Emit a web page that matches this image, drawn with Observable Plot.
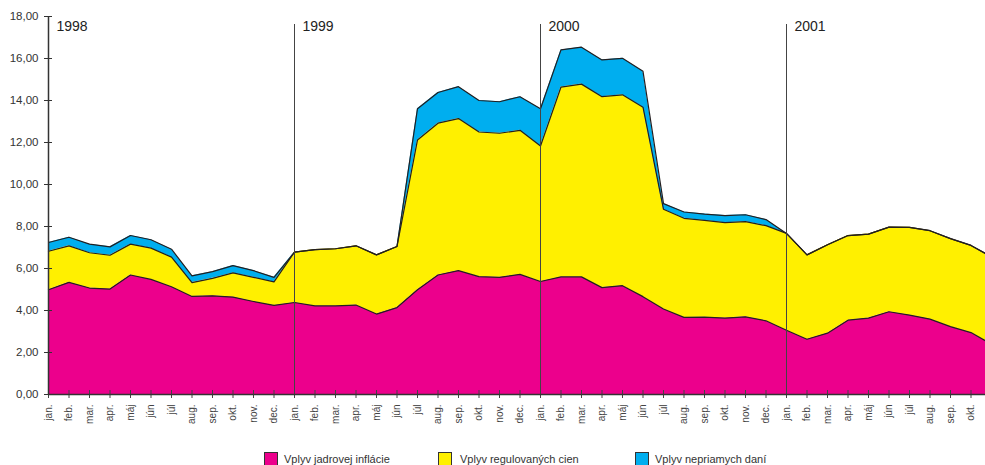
<!DOCTYPE html>
<html>
<head>
<meta charset="utf-8">
<script src="https://cdn.jsdelivr.net/npm/d3@7"></script>
<script src="https://cdn.jsdelivr.net/npm/@observablehq/plot@0.6"></script>
<style>
  html, body { margin: 0; padding: 0; background: #fff; overflow: hidden; }
  body { width: 985px; height: 465px; position: relative; font-family: "Liberation Sans", Arial, Helvetica, sans-serif; }
  #chart { position: absolute; left: 0; top: 0; }
  #legend { position: absolute; left: 0; top: 452px; width: 985px; height: 14px; font-size: 11px; color: #333; }
  .sw { width: 12px; height: 12px; border: 1px solid #333; box-sizing: content-box; }
</style>
</head>
<body>
<div id="chart"></div>
<div id="legend"></div>
<script>
const months = ["jan.","feb.","mar.","apr.","máj","jún","júl","aug.","sep.","okt.","nov.","dec."];
const years = ["1998","1999","2000","2001"];
const seriesNames = ["Vplyv jadrovej inflácie","Vplyv regulovaných cien","Vplyv nepriamych daní"];
const seriesColors = ["#EC008C","#FFF000","#00AEEF"];

// jan 1998 .. nov 2001 (47 months)
const core = [
  4.99,5.34,5.07,5.02,5.69,5.48,5.13,4.67,4.70,4.64,4.43,4.24,
  4.38,4.22,4.22,4.26,3.83,4.14,4.99,5.69,5.90,5.61,5.58,5.72,
  5.38,5.60,5.60,5.09,5.18,4.66,4.07,3.67,3.68,3.64,3.70,3.51,
  3.06,2.63,2.92,3.54,3.64,3.94,3.78,3.59,3.23,2.95,2.40
];
const regulated = [
  1.83,1.74,1.68,1.61,1.47,1.49,1.41,0.66,0.83,1.15,1.15,1.12,
  2.40,2.68,2.72,2.82,2.82,2.91,7.13,7.23,7.24,6.89,6.86,6.86,
  6.45,9.04,9.18,9.09,9.09,9.02,4.75,4.72,4.61,4.54,4.53,4.53,
  4.61,4.02,4.21,4.03,4.00,4.03,4.18,4.21,4.19,4.15,4.15
];
const taxes = [
  0.42,0.41,0.41,0.40,0.41,0.40,0.38,0.32,0.32,0.35,0.32,0.22,
  0.00,0.00,0.00,0.00,0.00,0.00,1.49,1.46,1.52,1.50,1.50,1.60,
  1.78,1.77,1.76,1.75,1.74,1.71,0.27,0.30,0.30,0.34,0.33,0.29,
  0.00,0.00,0.00,0.00,0.00,0.00,0.00,0.00,0.00,0.00,0.00
];
const yTicks = [0,2,4,6,8,10,12,14,16,18];

const seriesValues = [core, regulated, taxes];
const rows = [];
seriesValues.forEach((vals, s) => vals.forEach((v, i) => rows.push({i, series: seriesNames[s], value: v})));
const nLabeled = 46; // labels jan 1998 .. okt 2001
const xTicks = d3.range(nLabeled);
const yearStarts = years.map((label, k) => ({i: k * 12, label}));
const font = "'Liberation Sans', Arial, Helvetica, sans-serif";

const chart = Plot.plot({
  width: 985,
  height: 445,
  marginTop: 16,
  marginBottom: 51,
  marginLeft: 48,
  marginRight: 0,
  style: {fontFamily: font, background: "#fff", overflow: "visible"},
  x: {type: "linear", domain: [0, 45], range: [48, 970.5], axis: null, label: null},
  y: {domain: [0, 18], axis: null, label: null},
  color: {domain: seriesNames, range: seriesColors},
  marks: [
    Plot.areaY(rows, {x: "i", y: "value", z: "series", fill: "series"}),
    Plot.lineY(rows, Plot.stackY2({x: "i", y: "value", z: "series", stroke: "#231f20", strokeWidth: 1.2})),
    Plot.ruleX(yearStarts.slice(1), {x: "i", insetTop: 8, stroke: "#444", strokeWidth: 1}),
    Plot.text(yearStarts, {x: "i", text: "label", frameAnchor: "top", dx: 8, dy: 5, textAnchor: "start", fontSize: 14, fill: "#222"}),
    Plot.axisY(yTicks, {anchor: "left", label: null, tickSize: 4, tickPadding: 6, fontSize: 11.5, color: "#333", tickFormat: d => d.toFixed(2).replace(".", ",")}),
    Plot.axisY(yTicks, {anchor: "left", label: null, tickSize: -4, tickFormat: () => "", color: "#333"}),
    Plot.axisX(xTicks, {anchor: "bottom", label: null, tickSize: 4, tickPadding: 6, tickRotate: -90, fontSize: 10, color: "#444", tickFormat: i => months[i % 12]}),
    Plot.axisX(xTicks, {anchor: "bottom", label: null, tickSize: -4, tickFormat: () => "", color: "#444"}),
    Plot.ruleX([0], {stroke: "#333", strokeWidth: 1.5}),
    Plot.ruleY([0], {stroke: "#333", strokeWidth: 1.5})
  ]
});
document.getElementById("chart").appendChild(chart);

const legendPos = [{sw: 264, tx: 284}, {sw: 438, tx: 460}, {sw: 635, tx: 655}];
const legend = document.getElementById("legend");
seriesNames.forEach((name, k) => {
  const sw = document.createElement("div");
  sw.className = "sw";
  sw.style.position = "absolute";
  sw.style.left = legendPos[k].sw + "px";
  sw.style.top = "0px";
  sw.style.background = seriesColors[k];
  legend.appendChild(sw);
  const t = document.createElement("div");
  t.style.position = "absolute";
  t.style.left = legendPos[k].tx + "px";
  t.style.top = "0px";
  t.style.lineHeight = "14px";
  t.textContent = name;
  legend.appendChild(t);
});
</script>
</body>
</html>
